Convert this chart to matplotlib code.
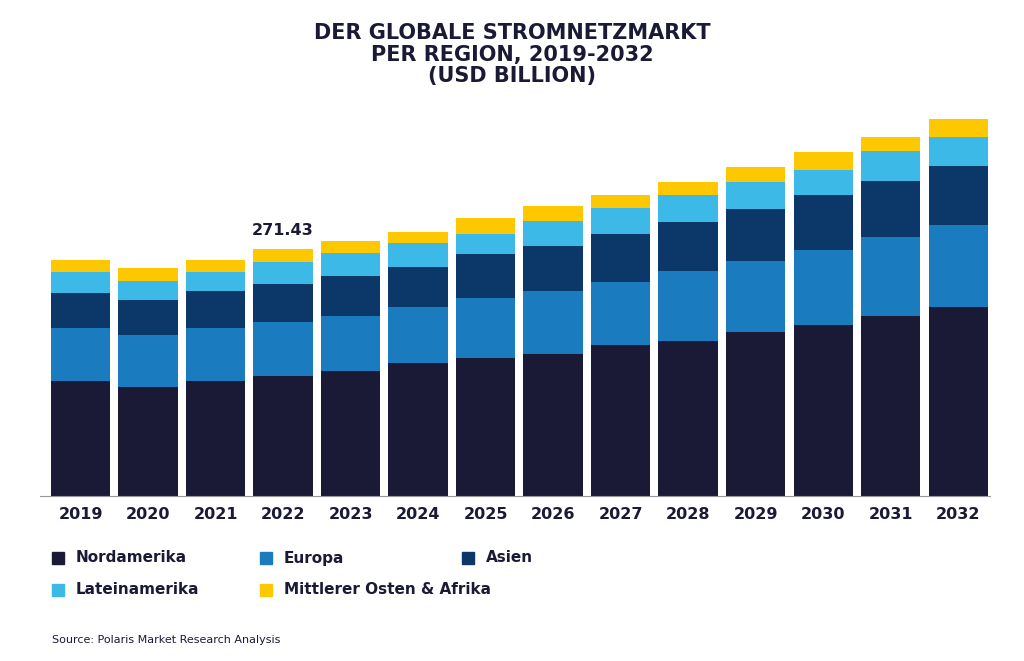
import matplotlib
matplotlib.use("Agg")
import matplotlib.pyplot as plt
import numpy as np

years = ["2019","2020","2021","2022","2023","2024","2025","2026","2027","2028","2029","2030","2031","2032"]
nordamerika = [126.4,119.8,126.4,131.9,137.4,146.2,151.7,156.1,166.0,170.3,180.2,187.9,197.8,207.7]
europa      = [58.2,57.1,58.2,59.3,60.4,61.5,65.9,69.2,69.2,76.9,78.0,82.4,86.8,90.1]
asien       = [38.5,38.5,40.7,41.8,44.0,44.0,48.4,49.5,52.8,53.8,57.1,60.4,61.5,64.8]
latein      = [23.1,20.9,20.9,24.2,25.3,26.4,22.0,27.5,28.6,29.7,29.7,27.5,33.0,31.9]
mea         = [13.2,14.3,13.2,14.3,13.2,12.1,17.6,16.5,14.3,14.3,16.5,19.8,15.4,19.8]
label_2022 = "271.43"
series = [("Nordamerika", nordamerika, "#1b1a36"),
          ("Europa", europa, "#1b7bbf"),
          ("Asien", asien, "#0c3769"),
          ("Lateinamerika", latein, "#3cb9e7"),
          ("Mittlerer Osten & Afrika", mea, "#fdc800")]

fig = plt.figure(figsize=(10.24, 6.61), dpi=100)
ax = fig.add_axes([40/1024, 0.25, 950/1024, 391/661])
x = np.arange(len(years))
bottom = np.zeros(len(years))
for name, vals, c in series:
    ax.bar(x, vals, 0.88, bottom=bottom, color=c, label=name)
    bottom += np.array(vals)
ax.text(3, bottom[3] + 12, label_2022, ha="center", va="bottom", fontsize=11.5, fontweight="bold", color="#1b1a36")
ax.set_xlim(-0.6, 13.47)
ax.set_ylim(0, 430)
ax.set_yticks([])
for s in ["top", "right", "left"]:
    ax.spines[s].set_visible(False)
ax.spines["bottom"].set_color("#999999")
ax.set_xticks(x)
ax.set_xticklabels(years, fontsize=11.5, fontweight="bold", color="#1b1a36")
ax.tick_params(axis="x", length=0, pad=8)

fig.text(0.5, 0.965, "DER GLOBALE STROMNETZMARKT\nPER REGION, 2019-2032\n(USD BILLION)",
         ha="center", va="top", fontsize=15, fontweight="bold", color="#1b1a36", linespacing=1.1)

pos = [(52, 558), (260, 558), (462, 558), (52, 590), (260, 590)]
for (name, _, c), (px, py) in zip(series, pos):
    fig.patches.append(plt.Rectangle((px/1024, 1 - (py+6)/661), 12/1024, 12/661,
                                     transform=fig.transFigure, color=c))
    fig.text((px+24)/1024, 1 - py/661, name, fontsize=11, fontweight="bold",
             color="#1b1a36", va="center")
fig.text(52/1024, 1 - 640/661, "Source: Polaris Market Research Analysis", fontsize=8,
         color="#1b1a36", va="center")
fig.savefig("out.png", dpi=100)
